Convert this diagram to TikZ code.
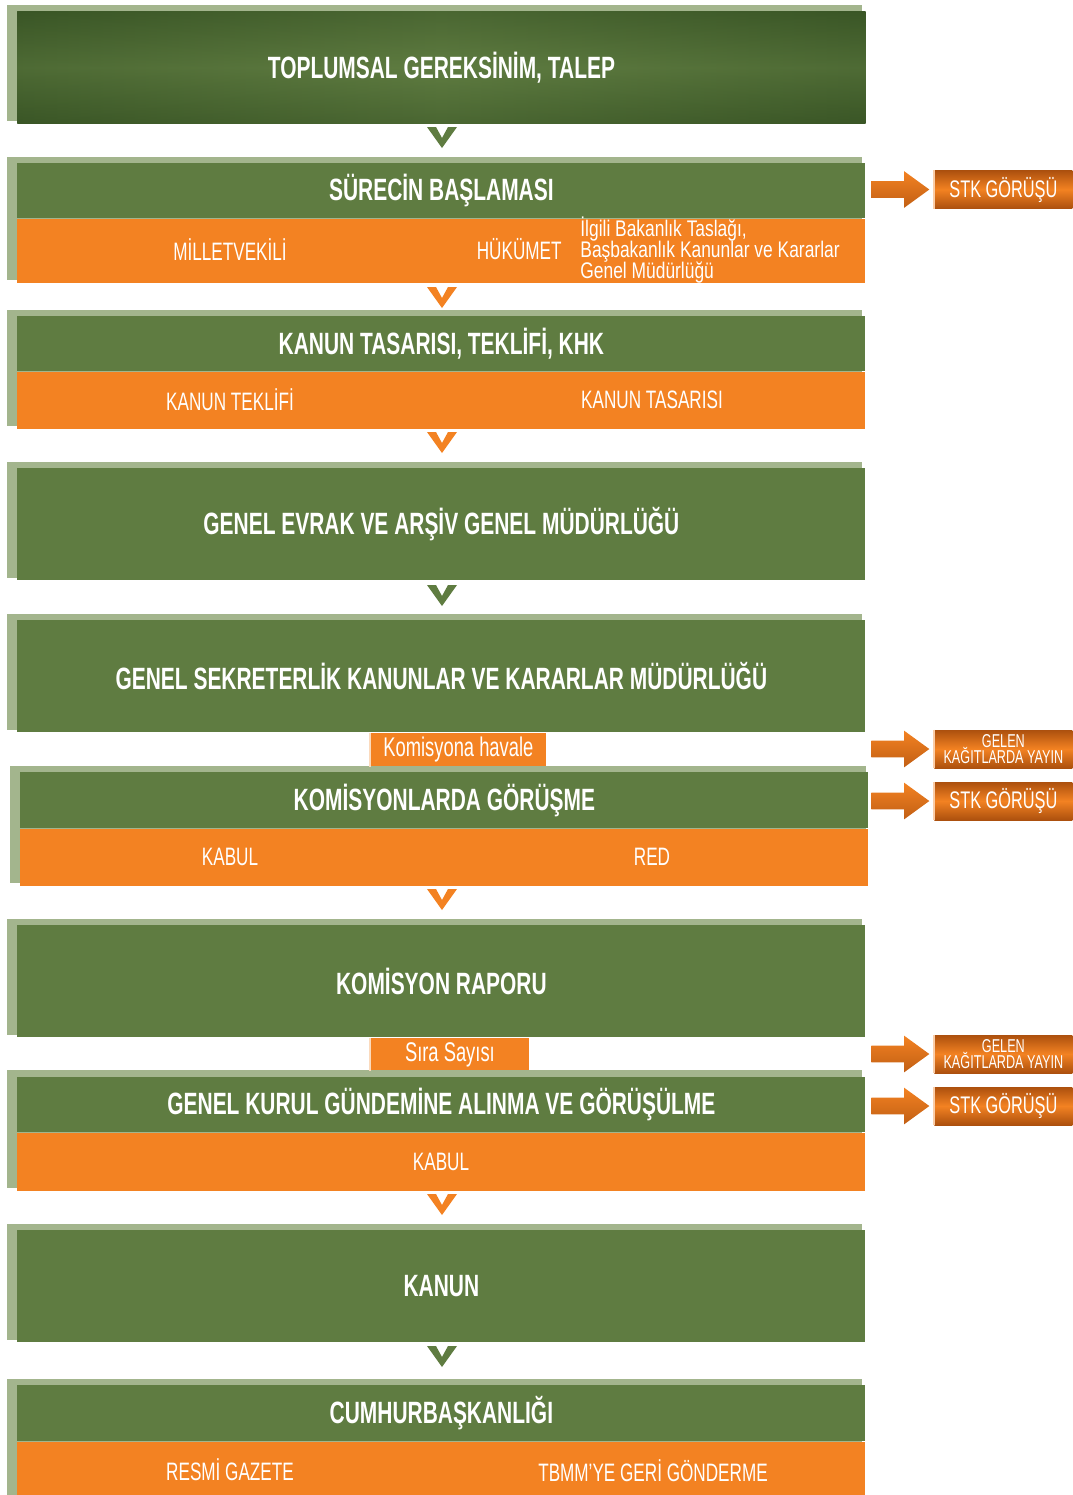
\documentclass[tikz,border=0pt]{standalone}
\usepackage{fontspec}
\setmainfont{Liberation Sans}[FakeStretch=0.68]
\newfontfamily\notefont{Liberation Sans}[FakeStretch=0.77]
\usetikzlibrary{positioning,shapes.arrows}

\definecolor{leafg}{RGB}{95,124,65}
\definecolor{darkleaf}{RGB}{58,86,38}
\definecolor{frameg}{RGB}{163,181,141}
\definecolor{orng}{RGB}{243,130,34}
\definecolor{rust}{RGB}{172,80,14}

\tikzset{
  head/.style={fill=leafg, text=white, inner sep=0pt, minimum width=424pt,
    anchor=north west, font=\bfseries\fontsize{15.4}{18}\selectfont},
  band/.style={fill=orng, inner sep=0pt, minimum width=424pt, anchor=north},
  subtxt/.style={text=white, inner sep=0pt, font=\fontsize{12.6}{15}\selectfont},
  tag/.style={fill=orng, text=white, inner sep=0pt, anchor=north west,
    font=\fontsize{13.5}{16}\selectfont},
  sidebox/.style={shading=axis, top color=rust, bottom color=rust, middle color=orng,
    text=white, inner sep=0pt, minimum width=69pt, minimum height=19pt,
    anchor=west, align=center, font=\fontsize{12}{14}\selectfont},
  sidearr/.style={single arrow, shading=axis, top color=orng, bottom color=rust!70!orng,
    inner sep=4pt, minimum height=29pt, single arrow head extend=5pt,
    single arrow tip angle=72, left=2pt of #1},
}

\begin{document}
\begin{tikzpicture}[x=0.5pt, y=-0.5pt]
\useasboundingbox (0,0) rectangle (1072,1495);

% frames
\fill[frameg] (7,5) rectangle (862,121);
\fill[frameg] (7,157) rectangle (862,280);
\fill[frameg] (7,310) rectangle (862,426);
\fill[frameg] (7,462) rectangle (862,578);
\fill[frameg] (7,614) rectangle (862,730);
\fill[frameg] (10,766) rectangle (866,883);
\fill[frameg] (7,919) rectangle (862,1035);
\fill[frameg] (7,1070) rectangle (862,1188);
\fill[frameg] (7,1224) rectangle (862,1340);
\fill[frameg] (7,1379) rectangle (862,1495);

% top block
\node[head, minimum height=56pt, shading=axis, top color=darkleaf, bottom color=darkleaf,
  middle color=leafg] (talep) at (17,11) {};
\shade[left color=darkleaf, right color=darkleaf, middle color=leafg, opacity=0.45]
  (talep.north west) rectangle (talep.south east);
\node[text=white, font=\bfseries\fontsize{15.4}{18}\selectfont] (talept) at (talep.center)
  {TOPLUMSAL GEREKSİNİM, TALEP};

% surecin baslamasi
\node[head, minimum height=27.5pt] (surec) at (17,163) {SÜRECİN BAŞLAMASI};
\node[band, minimum height=32pt] (surecb) at (surec.south) {};
\node[subtxt] (mv) at (230,250) {MİLLETVEKİLİ};
\node[subtxt, anchor=east] (huk) at (562,249) {HÜKÜMET};
\node[subtxt, anchor=west, align=left, font=\notefont\fontsize{11.3}{10}\selectfont] (bakan) at (580,250)
  {İlgili Bakanlık Taslağı,\\[-1.2pt]Başbakanlık Kanunlar ve Kararlar\\[-1.2pt]Genel Müdürlüğü};

% kanun tasarisi
\node[head, minimum height=27.5pt] (tasari) at (17,316) {KANUN TASARISI, TEKLİFİ, KHK};
\node[band, minimum height=28.5pt] (tasarib) at (tasari.south) {};
\node[subtxt] (teklif) at (230,400) {KANUN TEKLİFİ};
\node[subtxt] (tasarisi) at (652,400) {KANUN TASARISI};

% evrak
\node[head, minimum height=56pt] (evrak) at (17,468) {GENEL EVRAK VE ARŞİV GENEL MÜDÜRLÜĞÜ};

% sekreterlik
\node[head, minimum height=56pt] (sekr) at (17,620) {GENEL SEKRETERLİK KANUNLAR VE KARARLAR MÜDÜRLÜĞÜ};
\node[tag, minimum width=88pt, minimum height=16.5pt] (havale) at (370,733) {Komisyona havale};
\draw[white!70!orng, line width=1pt] (havale.north west) -- (havale.south west);

% komisyon
\node[head, minimum height=28pt] (komis) at (20,772) {KOMİSYONLARDA GÖRÜŞME};
\node[band, minimum height=28.5pt] (komisb) at (komis.south) {};
\node[subtxt] (kabul1) at (230,857) {KABUL};
\node[subtxt] (red) at (652,857) {RED};

% rapor
\node[head, minimum height=56pt] (rapor) at (17,925) {KOMİSYON RAPORU};
\node[tag, minimum width=79.5pt, minimum height=16pt] (sira) at (370,1038) {Sıra Sayısı};
\draw[white!70!orng, line width=1pt] (sira.north west) -- (sira.south west);

% genel kurul
\node[head, minimum height=27.5pt] (kurul) at (17,1077) {GENEL KURUL GÜNDEMİNE ALINMA VE GÖRÜŞÜLME};
\node[band, minimum height=29pt] (kurulb) at (kurul.south) {};
\node[subtxt] (kabul2) at (441,1162) {KABUL};

% kanun
\node[head, minimum height=56pt] (kanun) at (17,1230) {KANUN};

% cumhurbaskanligi
\node[head, minimum height=28pt] (cumh) at (17,1385) {CUMHURBAŞKANLIĞI};
\node[band, minimum height=27pt] (cumhb) at (cumh.south) {};
\node[subtxt] (gazete) at (230,1470) {RESMİ GAZETE};
\node[subtxt] (geri) at (653,1471) {TBMM’YE GERİ GÖNDERME};

% chevrons
\foreach \cy/\cc in {127/leafg, 287/orng, 432/orng, 585/leafg, 889/orng, 1194/orng, 1346/leafg}
  \fill[\cc] (427,\cy) -- ++(9,0) -- ++(6,11) -- ++(6,-11) -- ++(9,0) -- ++(-15,21) -- cycle;

% side boxes
\node[sidebox] (stk1) at (934,189.5) {STK GÖRÜŞÜ};
\node[sidebox, font=\fontsize{9.3}{7.5}\selectfont] (gelen1) at (934,749) {GELEN\\[-1pt]KAĞITLARDA YAYIN};
\node[sidebox] (stk2) at (934,801) {STK GÖRÜŞÜ};
\node[sidebox, font=\fontsize{9.3}{7.5}\selectfont] (gelen2) at (934,1054) {GELEN\\[-1pt]KAĞITLARDA YAYIN};
\node[sidebox] (stk3) at (934,1106) {STK GÖRÜŞÜ};
\foreach \b in {stk1, gelen1, stk2, gelen2, stk3}
  \draw[white!60!orng, line width=1pt] (\b.north west) -- (\b.south west);

% side arrows
\node[sidearr=stk1] (arr1) {};
\node[sidearr=gelen1] (arr2) {};
\node[sidearr=stk2] (arr3) {};
\node[sidearr=gelen2] (arr4) {};
\node[sidearr=stk3] (arr5) {};
\end{tikzpicture}
\end{document}
